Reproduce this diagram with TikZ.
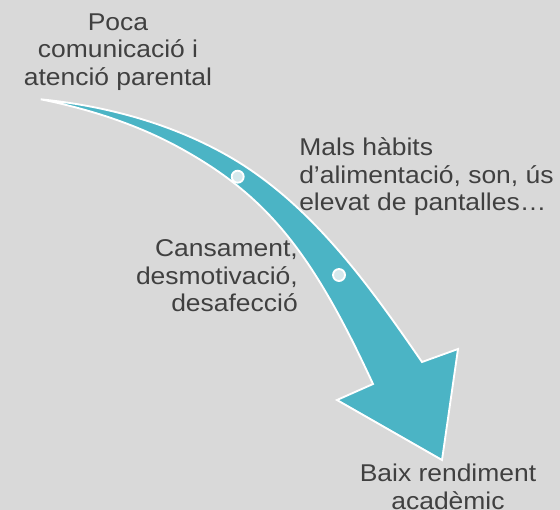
\documentclass[tikz,border=0pt]{standalone}
\usepackage{fontspec}
\setmainfont{Liberation Sans}[FakeStretch=1.09]
\definecolor{fonsgris}{RGB}{217,217,217}
\definecolor{fletxa}{RGB}{75,180,197}
\definecolor{puntblau}{RGB}{214,232,236}
\definecolor{textgris}{RGB}{64,64,64}
\begin{document}
\begin{tikzpicture}[x=0.75pt,y=0.75pt,yscale=-1,xscale=1,
	lbl/.style={inner sep=0pt, text=textgris, font=\fontsize{18.2}{20.6}\selectfont},
	punt/.style={circle, draw=white, line width=1.4pt, fill=puntblau, minimum size=9pt, inner sep=0pt}]
	
	%Background [id:fons]
	\fill [fonsgris] (0,0) rectangle (560,510) ;
	\useasboundingbox (0,0) rectangle (560,510) ;
	
	%Shape: Curved Arrow [id:fletxa]
	\draw [color=white ,line width=1.4pt ,line join=miter ][fill=fletxa ] (40.7,99.3) .. controls (106.4,105.9) and (172.9,123.9) .. (230,157) .. controls (311.3,204.2) and (368.6,284.6) .. (422,362) -- (458,349) -- (442,460) -- (337,400) -- (373,384) .. controls (311.5,250.7) and (266.3,195.5) .. (180,148) .. controls (137.1,124.4) and (88.7,108.9) .. cycle ;
	
	%Shape: Circle [id:puntA]
	\node [punt] (puntA) at (237.7,176.7) {} ;
	%Shape: Circle [id:puntB]
	\node [punt] (puntB) at (339,275) {} ;
	
	% Text Node
	\node [lbl, align=center] (poca) at (118,52) {Poca\\comunicació i\\atenció parental} ;
	% Text Node
	\node [lbl, align=left, anchor=west] (habits) at (299,177) {Mals hàbits\\d’alimentació, son, ús\\elevat de pantalles…} ;
	% Text Node
	\node [lbl, align=right, anchor=east] (cansament) at (298,276) {Cansament,\\desmotivació,\\desafecció} ;
	% Text Node
	\node [lbl, align=center] (rendiment) at (448,487) {Baix rendiment\\acadèmic} ;
	
\end{tikzpicture}
\end{document}
